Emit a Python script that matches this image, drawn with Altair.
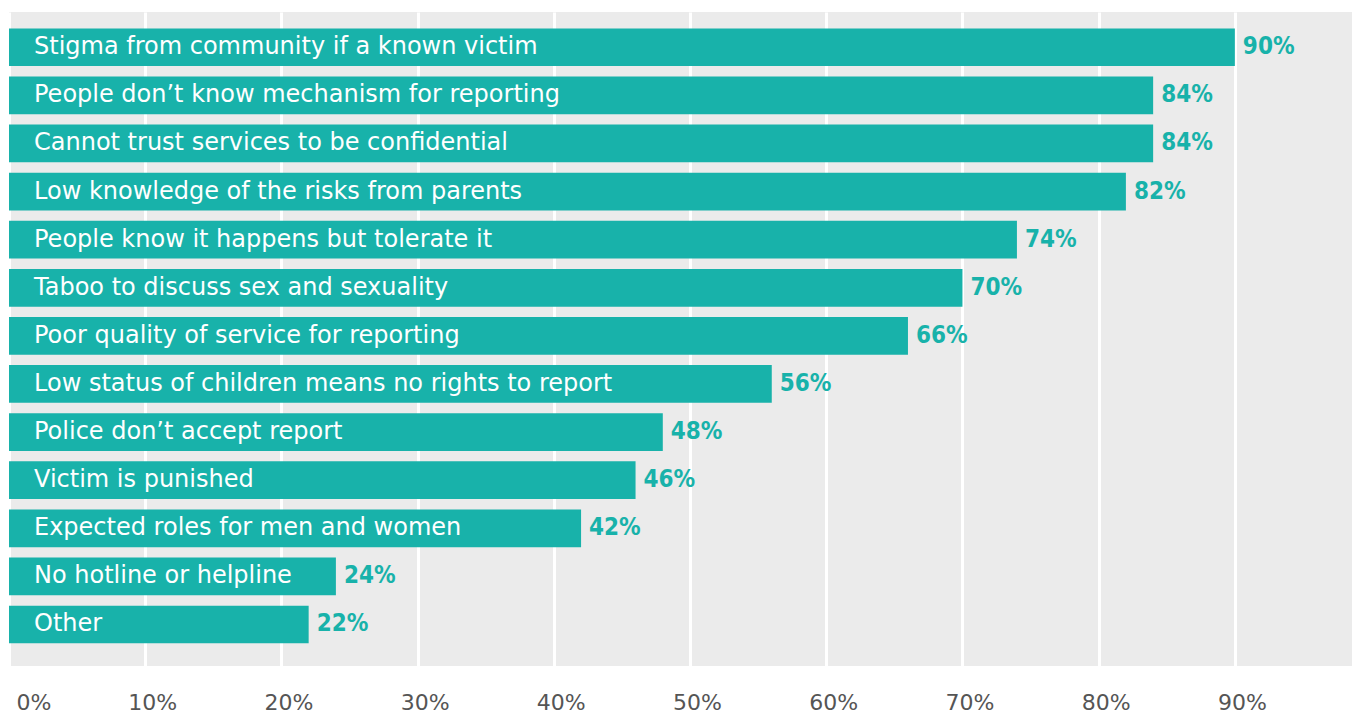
import altair as alt
import pandas as pd

categories = [
    "Stigma from community if a known victim",
    "People don’t know mechanism for reporting",
    "Cannot trust services to be confidential",
    "Low knowledge of the risks from parents",
    "People know it happens but tolerate it",
    "Taboo to discuss sex and sexuality",
    "Poor quality of service for reporting",
    "Low status of children means no rights to report",
    "Police don’t accept report",
    "Victim is punished",
    "Expected roles for men and women",
    "No hotline or helpline",
    "Other",
]
values = [90, 84, 84, 82, 74, 70, 66, 56, 48, 46, 42, 24, 22]
tick_values = [0, 10, 20, 30, 40, 50, 60, 70, 80, 90]

df = pd.DataFrame({"category": categories, "value": values})
df["label"] = df["value"].astype(str) + "%"

TEAL = "#18B2AA"

y_enc = alt.Y(
    "category:N",
    sort=categories,
    axis=None,
    scale=alt.Scale(paddingInner=0.216, paddingOuter=0.406, align=0.42),
)
x_enc = alt.X(
    "value:Q",
    scale=alt.Scale(domain=[0, 98.6], nice=False, zero=True),
    axis=alt.Axis(
        values=tick_values,
        labelExpr="datum.value + '%'",
        grid=True,
        gridColor="white",
        gridWidth=3,
        domain=False,
        ticks=False,
        labelPadding=26,
        labelFontSize=22,
        labelFont="DejaVu Sans",
        labelColor="#555555",
        labelOffset=7,
        title=None,
    ),
)

bars = alt.Chart(df).mark_bar(color=TEAL).encode(x=x_enc, y=y_enc)

inner = alt.Chart(df).mark_text(
    align="left", baseline="middle", color="white", fontSize=24, font="DejaVu Sans"
).encode(x=alt.value(25), y=y_enc, text="category:N")

vals = alt.Chart(df).mark_text(
    align="left", baseline="middle", dx=8, color=TEAL, fontSize=24,
    font="DejaVu Sans Condensed", fontWeight="bold"
).encode(x=alt.X("value:Q"), y=y_enc, text="label:N")

chart = (
    alt.layer(bars, inner, vals)
    .properties(width=1343, height=654, padding={"left": 1, "top": 4, "right": 0, "bottom": 0})
    .configure_view(fill="#EBEBEB", stroke=None)
)

chart.save("out.html", embed_options={"renderer": "svg", "actions": False})
